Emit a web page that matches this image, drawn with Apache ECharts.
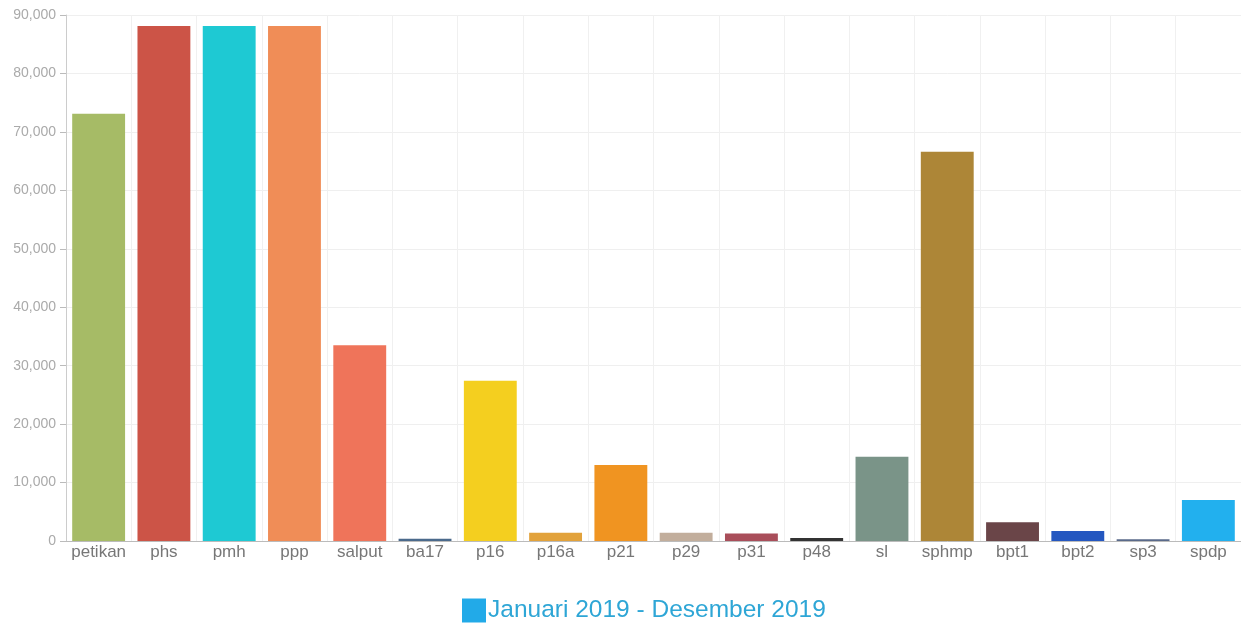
<!DOCTYPE html>
<html><head><meta charset="utf-8">
<script src="https://cdn.jsdelivr.net/npm/echarts@6/dist/echarts.min.js"></script>
<style>html,body{margin:0;padding:0;background:#fff}#c{width:1241px;height:629px}</style>
</head><body><div id="c"></div>
<script>
const categories = ['petikan','phs','pmh','ppp','salput','ba17','p16','p16a','p21','p29','p31','p48','sl','sphmp','bpt1','bpt2','sp3','spdp'];
const values = [73100, 88100, 88100, 88100, 33500, 400, 27400, 1400, 13000, 1400, 1300, 500, 14400, 66600, 3200, 1700, 300, 7000];
const barColors = ['#a6bb66','#cc5447','#1ec9d3','#f08d57','#ef745a','#4b6a8c','#f4cf1f','#e2a23b','#f09421','#c2ae9c','#a94e5a','#333333','#7a9488','#ad8637','#6a4548','#2457c0','#5a6a8a','#22b0ee'];
const yTicks = [0, 10000, 20000, 30000, 40000, 50000, 60000, 70000, 80000, 90000];
const seriesName = 'Januari 2019 - Desember 2019';

const chart = echarts.init(document.getElementById('c'));
chart.setOption({
  animation: false,
  textStyle: {fontFamily: 'Liberation Sans, Arial, sans-serif'},
  grid: {left: 66, right: -3, top: 15, bottom: 88},
  legend: {
    bottom: 1, left: 457,
    itemWidth: 24, itemHeight: 24, itemGap: 4,
    icon: 'rect',
    textStyle: {color: '#2ea6d6', fontSize: 24.5, padding: [2,0,0,-3]},
    data: [seriesName]
  },
  xAxis: {
    type: 'category', data: categories,
    axisLine: {lineStyle: {color: '#bbb'}},
    axisTick: {alignWithLabel: true, interval: 0, length: 4, lineStyle: {color: '#bbb'}},
    axisLabel: {color: '#777', fontSize: 17, margin: 3, interval: 0},
    splitLine: {show: true, interval: 0, lineStyle: {color: '#f0f0f0'}}
  },
  yAxis: {
    type: 'value', min: yTicks[0], max: yTicks[yTicks.length - 1], interval: yTicks[1] - yTicks[0],
    axisLine: {show: true, lineStyle: {color: '#ccc'}},
    axisTick: {show: true, length: 6, lineStyle: {color: '#bbb'}},
    axisLabel: {color: '#aaa', fontSize: 14, margin: 10,
      formatter: v => v.toLocaleString('en-US')},
    splitLine: {lineStyle: {color: '#efefef'}}
  },
  series: [{
    name: seriesName, type: 'bar', barCategoryGap: '19%',
    itemStyle: {color: '#22aae8'},
    data: values.map((v, i) => ({value: v, itemStyle: {color: barColors[i]}}))
  }]
});
</script></body></html>
